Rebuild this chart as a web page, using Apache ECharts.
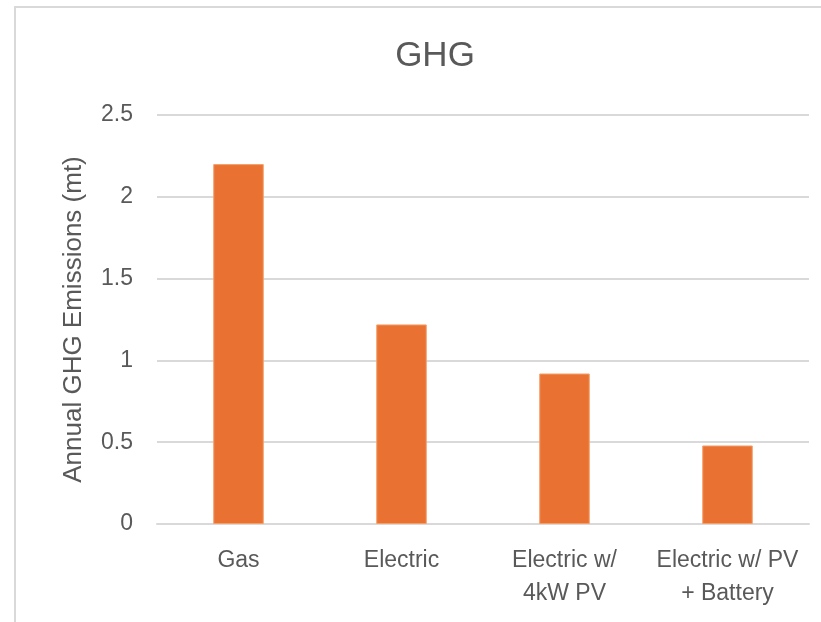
<!DOCTYPE html>
<html>
<head>
<meta charset="utf-8">
<script src="https://cdn.jsdelivr.net/npm/echarts@6/dist/echarts.min.js"></script>
<style>
  html, body { margin: 0; padding: 0; background: #fff; }
  #chart { width: 821px; height: 622px; }
</style>
</head>
<body>
<div id="chart"></div>
<script>
// data
const categories = ['Gas', 'Electric', 'Electric w/\n4kW PV', 'Electric w/ PV\n+ Battery'];
const emissions = [2.2, 1.22, 0.92, 0.48];
const yTicks = [0, 0.5, 1, 1.5, 2, 2.5];

const font = 'Liberation Sans, Arial, sans-serif';
const textColor = '#595959';
const gridColor = '#d9d9d9';

const myChart = echarts.init(document.getElementById('chart'));
const option = {
  backgroundColor: '#fff',
  animation: false,
  graphic: [{
    type: 'rect',
    shape: { x: 15, y: 7, width: 900, height: 700 },
    style: { fill: 'none', stroke: gridColor, lineWidth: 2 }
  }],
  title: {
    text: 'GHG',
    left: 430,
    top: 34,
    textAlign: 'center',
    textStyle: { fontFamily: font, fontSize: 35, fontWeight: 'normal', color: textColor }
  },
  grid: { left: 157, right: 12, top: 115, bottom: 98 },
  xAxis: {
    type: 'category',
    data: categories,
    axisLine: { lineStyle: { color: gridColor, width: 2 } },
    axisTick: { show: false },
    axisLabel: {
      fontFamily: font, fontSize: 23, color: textColor,
      lineHeight: 33, margin: 20, interval: 0
    }
  },
  yAxis: {
    type: 'value',
    min: yTicks[0],
    max: yTicks[yTicks.length - 1],
    interval: 0.5,
    name: 'Annual GHG Emissions (mt)',
    nameLocation: 'middle',
    nameGap: 70,
    nameTextStyle: { fontFamily: font, fontSize: 26, color: textColor },
    axisLine: { show: false },
    axisTick: { show: false },
    axisLabel: { fontFamily: font, fontSize: 23, color: textColor, margin: 24 },
    splitLine: { lineStyle: { color: gridColor, width: 2 } }
  },
  series: [{
    type: 'bar',
    data: emissions,
    barWidth: '31%',
    itemStyle: { color: '#e97132', borderColor: '#f4a069', borderWidth: 1 }
  }]
};
myChart.setOption(option);
</script>
</body>
</html>
